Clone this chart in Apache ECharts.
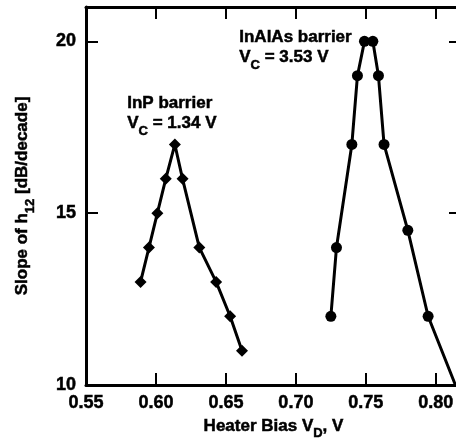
<!DOCTYPE html>
<html><head><meta charset="utf-8">
<script src="https://cdn.jsdelivr.net/npm/echarts@6/dist/echarts.min.js"></script>
<style>html,body{margin:0;padding:0;overflow:hidden;background:#fff}#c{width:480px;height:440px}</style>
</head><body><div id="c"></div><script>
// InP barrier (diamonds)
const inpX = [0.589, 0.595, 0.601, 0.607, 0.6135, 0.619, 0.631, 0.643, 0.653, 0.6615];
const inpY = [13, 14, 15, 16, 17, 16, 14, 13, 12, 11];
// InAlAs barrier (circles); last point is where the curve leaves the frame
const inalasX = [0.725, 0.729, 0.740, 0.744, 0.749, 0.755, 0.759, 0.763, 0.780, 0.7945, 0.814];
const inalasY = [12, 14, 17, 19, 20, 20, 19, 17, 14.5, 12, 10];
const xMin = 0.55, xMax = 0.818, xStep = 0.05;
const yMin = 10, yMax = 21, yStep = 5;

const FONT = '"Liberation Sans", Arial, sans-serif';
const heavy = { textBorderColor: '#000', textBorderWidth: 0.5 };
const richMain = Object.assign({ fontFamily: FONT, fontWeight: 'bold', fontSize: 17, lineHeight: 20, verticalAlign: 'top', color: '#000' }, heavy);
const richSub = Object.assign({ fontFamily: FONT, fontWeight: 'bold', fontSize: 13, lineHeight: 32, color: '#000' }, heavy);
const rich = { a: richMain, s: richSub };
// zrender-level rich styles for graphic text (stroke instead of box border)
const gRich = {
  a: { fontFamily: FONT, fontWeight: 'bold', fontSize: 17, lineHeight: 20, verticalAlign: 'top', fill: '#000', stroke: '#000', lineWidth: 0.5 },
  s: { fontFamily: FONT, fontWeight: 'bold', fontSize: 13, lineHeight: 32, fill: '#000', stroke: '#000', lineWidth: 0.5 }
};

const chart = echarts.init(document.getElementById('c'), null, { renderer: 'canvas' });
const axisLine = { show: true, onZero: false, lineStyle: { color: '#000', width: 3 } };
const tick = { show: true, inside: true, length: 12, lineStyle: { color: '#000', width: 2 } };
const lbl = Object.assign({ color: '#000', fontFamily: FONT, fontWeight: 'bold', fontSize: 18 }, heavy);

chart.setOption({
  animation: false,
  backgroundColor: '#fff',
  grid: { left: 86, top: 7, right: 19, bottom: 55, containLabel: false, outerBoundsMode: 'none' },
  xAxis: [{
    type: 'value', min: xMin, max: xMax, interval: xStep, position: 'bottom',
    axisLine, axisTick: tick, splitLine: { show: false },
    axisLabel: Object.assign({ margin: 9, formatter: v => v.toFixed(2), showMaxLabel: false }, lbl),
    name: '{a|Heater Bias V}{s|D}{a|, V}', nameLocation: 'middle', nameGap: 31,
    nameTextStyle: { rich }
  }, {
    type: 'value', min: xMin, max: xMax, interval: xStep, position: 'top',
    axisLine, axisTick: tick, axisLabel: { show: false }, splitLine: { show: false }
  }],
  yAxis: [{
    type: 'value', min: yMin, max: yMax, interval: yStep, position: 'left',
    axisLine, axisTick: tick, splitLine: { show: false },
    axisLabel: Object.assign({ margin: 10, showMaxLabel: false }, lbl),
    name: '{a|Slope of h}{s|12}{a| [dB/decade]}', nameLocation: 'middle', nameGap: 40, nameRotate: 90,
    nameTextStyle: { rich }
  }, {
    type: 'value', min: yMin, max: yMax, interval: yStep, position: 'right',
    axisLine, axisTick: tick, axisLabel: { show: false }, splitLine: { show: false }
  }],
  series: [{
    name: 'InP barrier', type: 'line', symbol: 'diamond', symbolSize: 12,
    lineStyle: { color: '#000', width: 3 }, itemStyle: { color: '#000' },
    data: inpX.map((x, i) => [x, inpY[i]])
  }, {
    name: 'InAlAs barrier', type: 'line', symbol: 'circle', symbolSize: 11,
    lineStyle: { color: '#000', width: 3 }, itemStyle: { color: '#000' },
    data: inalasX.map((x, i) => i === inalasX.length - 1 ? { value: [x, inalasY[i]], symbol: 'none' } : [x, inalasY[i]])
  }],
  graphic: [{
    type: 'text', left: 239, top: 29,
    style: { text: '{a|InAlAs barrier}\n{a|V}{s|C}{a| = 3.53 V}', rich: gRich, fill: '#000' }
  }, {
    type: 'text', left: 127, top: 95,
    style: { text: '{a|InP barrier}\n{a|V}{s|C}{a| = 1.34 V}', rich: gRich, fill: '#000' }
  }]
});
</script></body></html>
